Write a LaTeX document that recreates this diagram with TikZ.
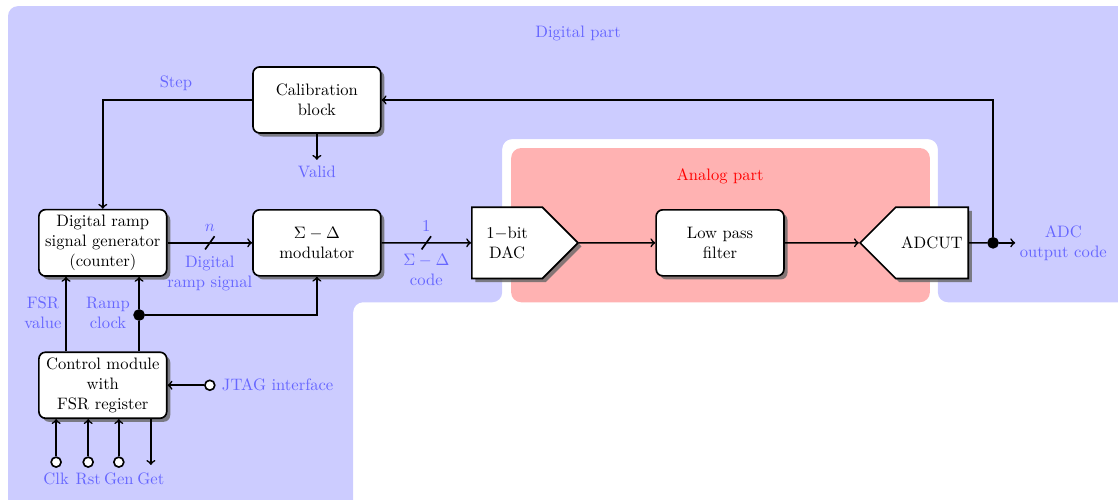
\documentclass[tikz,border=0pt]{standalone}
\usepackage{amsmath, amssymb}
\usetikzlibrary{positioning}
\usetikzlibrary{calc}
\usetikzlibrary{shapes.symbols}
\usetikzlibrary{shadows}

\colorlet{digital}{blue!20}
\colorlet{analog}{red!30}
\colorlet{lbl}{blue!60}

\begin{document}
\begin{tikzpicture}[line width=1pt, >=to,
    block/.style={rectangle, draw, fill=white, rounded corners, drop shadow={opacity=0.8, fill=black!60}, minimum width=2.71cm, minimum height=1.4cm, align=center},
    conv/.style={signal, draw, fill=white, drop shadow={opacity=0.8, fill=black!60}, minimum width=2.25cm, minimum height=1.51cm, align=center},
    dot/.style={circle, draw, fill=black, inner sep=0pt, minimum size=6pt},
    pin/.style={circle, draw, fill=white, inner sep=0pt, minimum size=6pt},
    txt/.style={text=lbl, align=center}]
        % Fix the page size
        \useasboundingbox (0,0) rectangle (23.71,-10.60);
        \clip (0,0) rectangle (23.71,-10.60);

        % Draw the digital and analog areas
        \fill[digital, rounded corners=6pt] (0.17,-0.13) -- (24.5,-0.13) -- (24.5,-6.41) -- (19.89,-6.41) -- (19.89,-2.95)
          -- (10.65,-2.95) -- (10.65,-6.41) -- (7.49,-6.41) -- (7.49,-11.5) -- (0.17,-11.5) -- cycle;
        \fill[analog, rounded corners=6pt] (10.84,-3.14) rectangle (19.72,-6.41);
        \node[txt] (digitallbl) at (12.26,-0.70) {Digital part};
        \node[text=red] (analoglbl) at (15.27,-3.73) {Analog part};

        % Draw the blocks
        \node[block] (calib) at (6.72,-2.12) {Calibration\\block};
        \node[block] (ramp) at (2.18,-5.15) {Digital ramp\\signal generator\\(counter)};
        \node[block] (mod) at (6.72,-5.15) {$\Sigma-\Delta$\\modulator};
        \node[conv, signal to=east, anchor=west] (dac) at (9.99,-5.15) {1$-$bit\\DAC};
        \node[block] (lpf) at (15.27,-5.15) {Low pass\\filter};
        \node[conv, signal to=west, anchor=east] (adc) at (20.55,-5.15) {ADCUT};
        \node[block] (ctrl) at (2.18,-8.17) {Control module\\with\\FSR register};

        % Draw the main signal chain
        \draw[->] (ramp) -- (mod) coordinate[midway] (nslash);
        \draw ($(nslash)+(-0.1,-0.14)$) -- ($(nslash)+(0.1,0.14)$);
        \node[txt, above=3pt of nslash] (nlbl) {$n$};
        \node[txt, below=4pt of nslash] (ramplbl) {Digital\\ramp signal};

        \draw[->] (mod) -- (dac) coordinate[midway] (oneslash);
        \draw ($(oneslash)+(-0.1,-0.14)$) -- ($(oneslash)+(0.1,0.14)$);
        \node[txt, above=3pt of oneslash] (onelbl) {1};
        \node[txt, below=3pt of oneslash] (codelbl) {$\Sigma-\Delta$\\code};

        \draw[->] (dac) -- (lpf);
        \draw[->] (lpf) -- (adc);

        % Output and calibration loop
        \node[dot] (join) at (21.06,-5.15) {};
        \coordinate (out) at (21.53,-5.15);
        \node[txt] (outlbl) at (22.55,-5.15) {ADC\\output code};
        \draw (adc) -- (join);
        \draw[->] (join) -- (out);
        \draw[->] (join) |- (calib);
        \draw[->] (calib) -| (ramp);
        \node[txt] (steplbl) at (3.73,-1.76) {Step};
        \node[txt] (valid) at (6.72,-3.65) {Valid};
        \draw[->] (calib) -- (valid);

        % Control module links
        \coordinate (fsr) at (1.40,-6.64);
        \draw[->] (ctrl.north -| fsr) -- (ramp.south -| fsr);
        \node[txt] (fsrlbl) at (0.91,-6.64) {FSR\\value};
        \node[dot] (clkdot) at (2.95,-6.68) {};
        \draw (ctrl.north -| clkdot) -- (clkdot);
        \draw[->] (clkdot) -- (ramp.south -| clkdot);
        \draw[->] (clkdot) -| (mod);
        \node[txt] (ramplk) at (2.29,-6.64) {Ramp\\clock};

        \node[pin] (jtag) at (4.45,-8.17) {};
        \node[txt, right=0pt of jtag] (jtaglbl) {JTAG interface};
        \draw[->] (jtag) -- (ctrl);

        % Pins under the control module
        \foreach \x/\name/\lbl in {1.19/clk/Clk, 1.87/rst/Rst, 2.52/gen/Gen}
        {
          \node[pin] (\name) at (\x,-9.80) {};
          \node[txt, anchor=base] (\name lbl) at (\x,-10.27) {\lbl};
          \draw[->] (\name) -- (ctrl.south -| \name);
        }
        \coordinate (get) at (3.20,-9.86);
        \node[txt, anchor=base] (getlbl) at (3.20,-10.27) {Get};
        \draw[->] (ctrl.south -| get) -- (get);
      \end{tikzpicture}
\end{document}
